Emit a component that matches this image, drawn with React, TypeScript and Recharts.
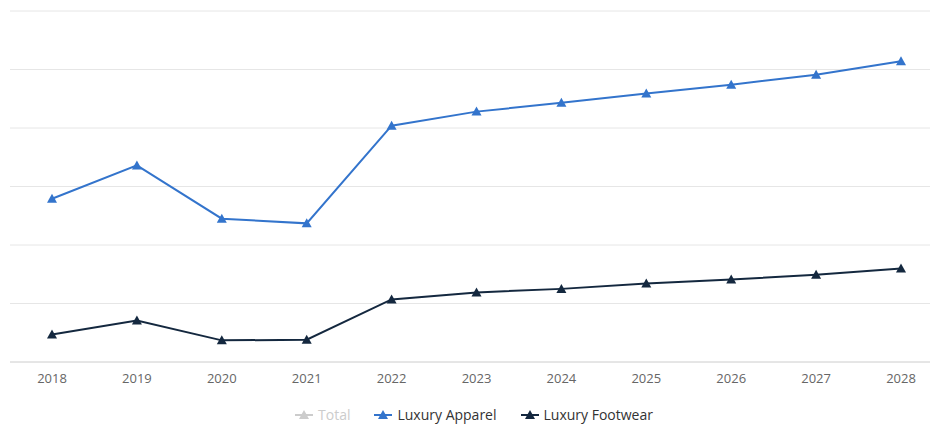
import React from "react";
import { LineChart, Line, XAxis, YAxis, CartesianGrid, Legend } from "recharts";

const years = ["2018", "2019", "2020", "2021", "2022", "2023", "2024", "2025", "2026", "2027", "2028"];
const apparel = [2.79, 3.36, 2.45, 2.37, 4.04, 4.28, 4.43, 4.59, 4.74, 4.91, 5.14];
const footwear = [0.47, 0.71, 0.37, 0.38, 1.07, 1.19, 1.25, 1.34, 1.41, 1.49, 1.6];
const yTicks = [0, 1, 2, 3, 4, 5, 6];

const APPAREL = "#3374cc";
const FOOTWEAR = "#14283f";
const TOTAL = "#cccccc";

const data = years.map((year, i) => ({ year, apparel: apparel[i], footwear: footwear[i] }));

function Triangle(props: any) {
  const { cx, cy, fill, index } = props;
  if (cx == null || cy == null) return null;
  return <path key={index} d={`M${cx},${cy - 5} L${cx + 5},${cy + 4} L${cx - 5},${cy + 4} Z`} fill={fill} />;
}

const legendItems = [
  { name: "Total", color: TOTAL, text: "#cccccc" },
  { name: "Luxury Apparel", color: APPAREL, text: "#333333" },
  { name: "Luxury Footwear", color: FOOTWEAR, text: "#333333" },
];

function ChartLegend() {
  return (
    <div style={{ display: "flex", justifyContent: "center", gap: 24, paddingTop: 15, fontSize: 14, lineHeight: "16px" }}>
      {legendItems.map((it) => (
        <div key={it.name} style={{ display: "flex", alignItems: "center", color: it.text }}>
          <svg width={18} height={12} style={{ marginRight: 5 }}>
            <line x1={0} y1={6} x2={18} y2={6} stroke={it.color} strokeWidth={2} />
            <path d="M9,1 L14,10 L4,10 Z" fill={it.color} />
          </svg>
          {it.name}
        </div>
      ))}
    </div>
  );
}

export default function App() {
  return (
    <div style={{ fontFamily: "'Open Sans', sans-serif" }}>
      <LineChart width={930} height={416} data={data} margin={{ top: 3, right: 0, left: 2, bottom: 0 }}>
        <CartesianGrid vertical={false} stroke="#e6e6e6" />
        <XAxis
          dataKey="year"
          padding={{ left: 42, right: 37 }}
          height={30}
          tickLine={false}
          tickMargin={6}
          stroke="#d8d8d8"
          tick={{ fill: "#666666", fontSize: 13 }}
        />
        <YAxis hide domain={[0, 6]} ticks={yTicks} />
        <Legend verticalAlign="bottom" height={32} content={() => <ChartLegend />} />
        <Line
          dataKey="apparel"
          stroke={APPAREL}
          strokeWidth={2}
          dot={(p: any) => <Triangle {...p} fill={APPAREL} />}
          isAnimationActive={false}
        />
        <Line
          dataKey="footwear"
          stroke={FOOTWEAR}
          strokeWidth={2}
          dot={(p: any) => <Triangle {...p} fill={FOOTWEAR} />}
          isAnimationActive={false}
        />
      </LineChart>
    </div>
  );
}
